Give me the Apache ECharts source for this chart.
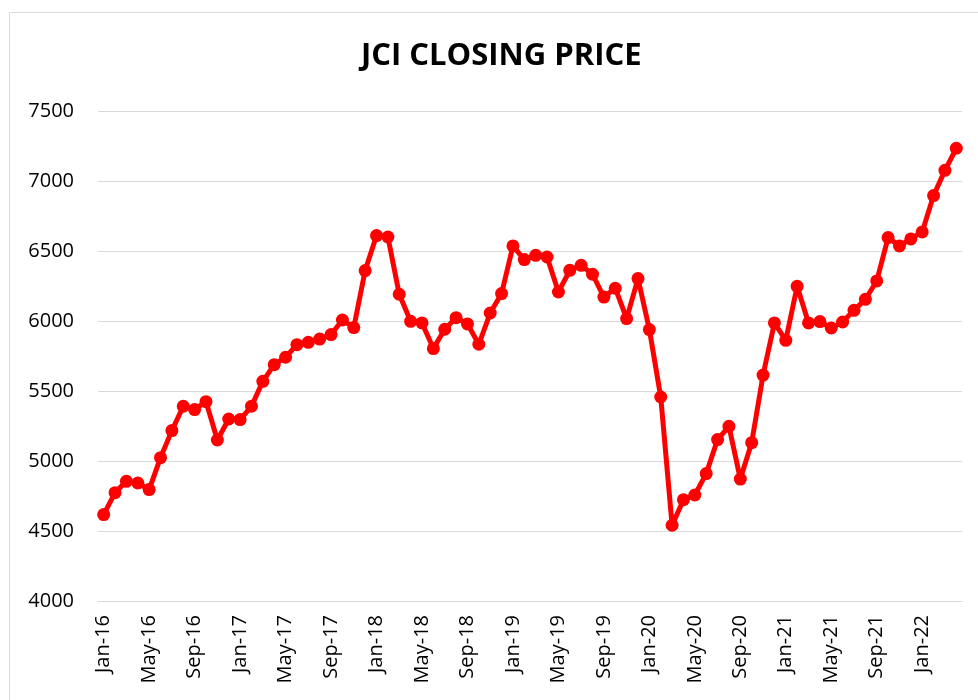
<!DOCTYPE html>
<html>
<head>
<meta charset="utf-8">
<script src="https://cdn.jsdelivr.net/npm/echarts@6/dist/echarts.min.js"></script>
<style>
  html, body { margin: 0; padding: 0; background: #fff; }
  #chart { width: 978px; height: 700px; }
</style>
</head>
<body>
<div id="chart"></div>
<script>
// Month labels, Jan-16 .. Apr-22
const months = ["Jan", "Feb", "Mar", "Apr", "May", "Jun", "Jul", "Aug", "Sep", "Oct", "Nov", "Dec"];
const monthLabels = [];
for (let y = 16; y <= 22; y++) {
    for (const m of months) {
        if (monthLabels.length < 76) monthLabels.push(m + "-" + y);
    }
}

// Closing price per month
const closingPrice = [
    4617, 4774, 4855, 4843, 4796, 5024, 5217, 5391, 5367, 5424, 5150, 5300,
    5296, 5391, 5569, 5688, 5741, 5831, 5848, 5871, 5903, 6007, 5953, 6360,
    6610, 6600, 6191, 5998, 5986, 5803, 5941, 6024, 5979, 5834, 6057, 6196,
    6536, 6439, 6469, 6457, 6207, 6362, 6398, 6334, 6171, 6234, 6017, 6303,
    5939, 5457, 4541, 4724, 4757, 4910, 5153, 5248, 4871, 5131, 5614, 5986,
    5862, 6248, 5986, 5996, 5950, 5993, 6076, 6155, 6286, 6596, 6536, 6586,
    6636, 6896, 7076, 7234
];

const chart = echarts.init(document.getElementById("chart"));
chart.setOption({
    animation: false,
    backgroundColor: "#fff",
    graphic: [{
        type: "rect",
        shape: { x: 9.5, y: 12.5, width: 1000, height: 1000 },
        style: { fill: "none", stroke: "#d9d9d9", lineWidth: 1 }
    }],
    title: {
        text: "JCI CLOSING PRICE",
        left: 356,
        top: 36,
        textStyle: { fontFamily: "Open Sans", fontWeight: "bold", fontSize: 31, color: "#000" }
    },
    grid: { left: 98, right: 16, top: 111, bottom: 99 },
    xAxis: {
        type: "category",
        data: monthLabels,
        boundaryGap: true,
        axisLine: { lineStyle: { color: "#d9d9d9", width: 1 } },
        axisTick: { interval: 3, length: 6, lineStyle: { color: "#d9d9d9" } },
        axisLabel: {
            interval: 3,
            rotate: 90,
            margin: 14,
            fontFamily: "Open Sans",
            fontSize: 20,
            color: "#000"
        }
    },
    yAxis: {
        type: "value",
        min: 4000,
        max: 7500,
        interval: 500,
        axisLine: { show: false },
        axisTick: { show: false },
        splitLine: { lineStyle: { color: "#d9d9d9", width: 1 } },
        axisLabel: {
            margin: 24,
            fontFamily: "Open Sans",
            fontSize: 20,
            color: "#000",
            formatter: v => String(v)
        }
    },
    series: [{
        type: "line",
        data: closingPrice,
        symbol: "circle",
        symbolSize: 13,
        showAllSymbol: true,
        lineStyle: { color: "#ff0000", width: 5 },
        itemStyle: { color: "#ff0000" }
    }]
});
</script>
</body>
</html>
